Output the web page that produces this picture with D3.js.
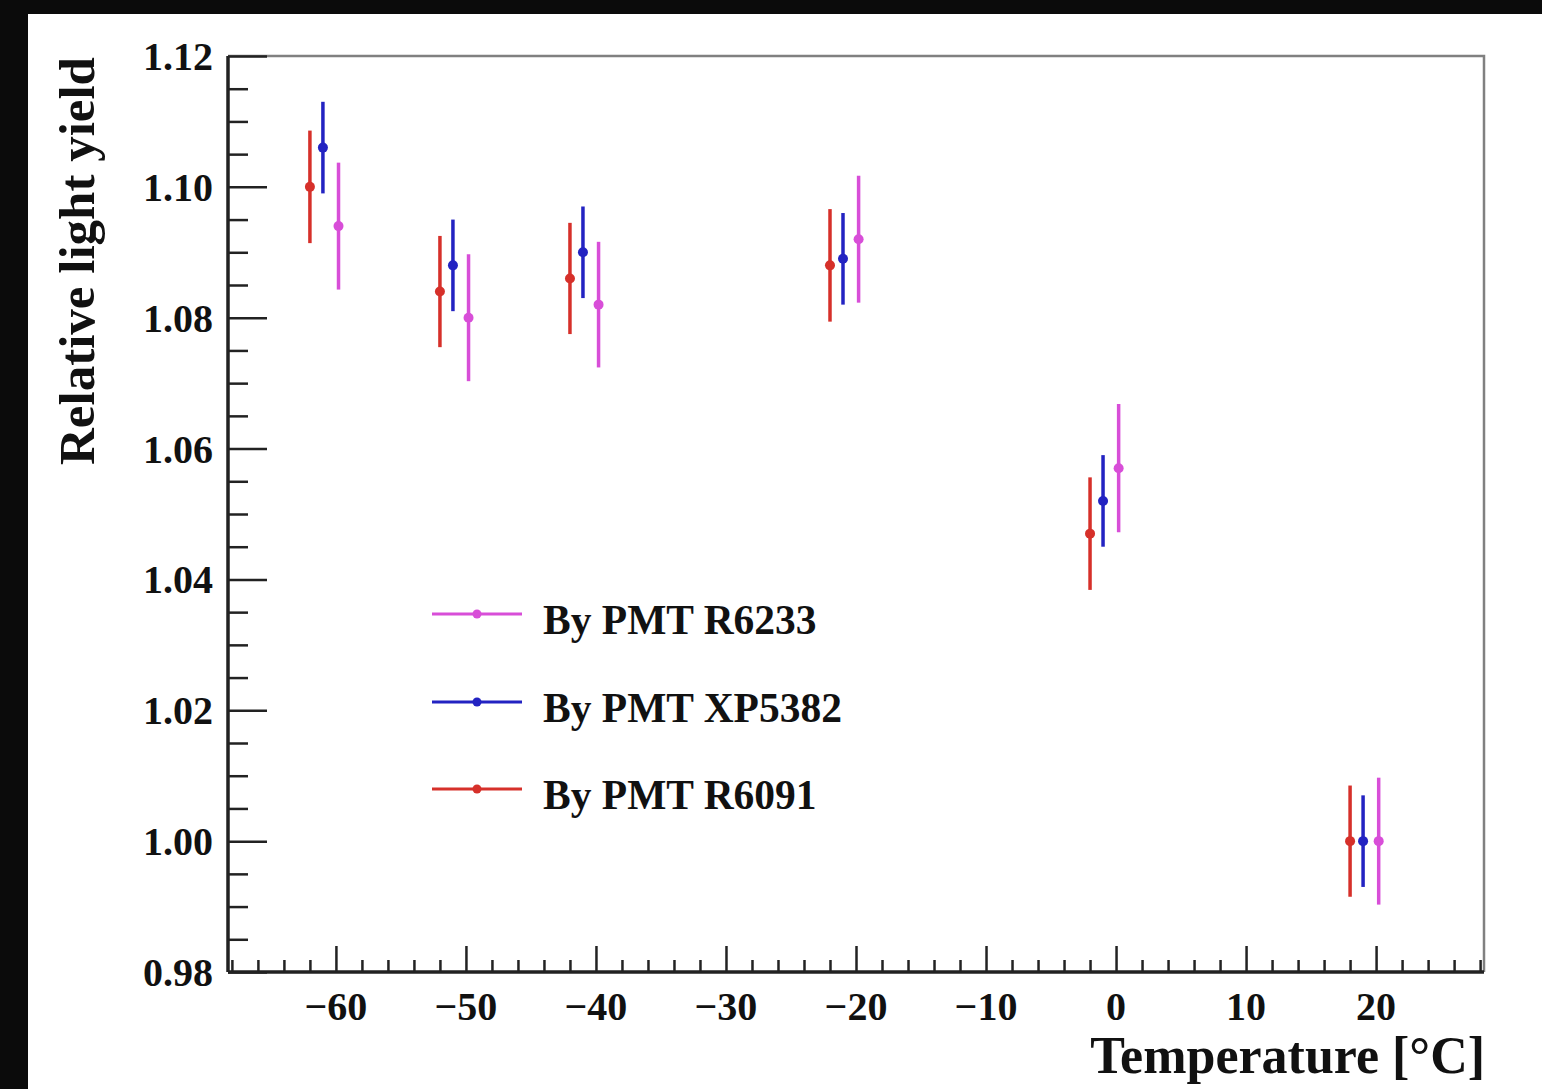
<!DOCTYPE html>
<html>
<head>
<meta charset="utf-8">
<script src="https://cdn.jsdelivr.net/npm/d3@7"></script>
<style>
  html, body { margin: 0; padding: 0; background: #0b0b0b; }
  svg { display: block; }
  text { font-family: "Liberation Serif", "Times New Roman", serif; font-weight: bold; fill: #111; }
</style>
</head>
<body>
<svg id="chart" width="1542" height="1089"></svg>
<script>
// temperatures each PMT was measured at (shifted a bit per PMT so the bars don't overlap)
var tempsR6233 = [-59.8, -49.8, -39.8, -19.8, 0.2, 20.2];
var tempsXP5382 = [-61, -51, -41, -21, -1, 19];
var tempsR6091 = [-62, -52, -42, -22, -2, 18];

var yieldR6233 = [1.094, 1.080, 1.082, 1.092, 1.057, 1.000];
var yieldXP5382 = [1.106, 1.088, 1.090, 1.089, 1.052, 1.000];
var yieldR6091 = [1.100, 1.084, 1.086, 1.088, 1.047, 1.000];

var errR6233 = [0.0097, 0.0097, 0.0096, 0.0097, 0.0098, 0.0097];
var errXP5382 = [0.007, 0.007, 0.007, 0.007, 0.007, 0.007];
var errR6091 = [0.0086, 0.0085, 0.0085, 0.0086, 0.0086, 0.0085];

var seriesNames = ["By PMT R6233", "By PMT XP5382", "By PMT R6091"];
var seriesColors = ["#d84ed8", "#2323c2", "#d6302a"];

var xMajorTicks = [-60, -50, -40, -30, -20, -10, 0, 10, 20];
var yMajorTicks = [0.98, 1.00, 1.02, 1.04, 1.06, 1.08, 1.10, 1.12];

var svg = d3.select("#chart");

// white pad on black background
svg.append("rect").attr("x", 28).attr("y", 14).attr("width", 1542 - 28).attr("height", 1089 - 14).attr("fill", "#fff");

var padL = 228, padR = 1484, padT = 56, padB = 972;

var x = d3.scaleLinear().domain([-68.3, 28.3]).range([padL, padR]);
var y = d3.scaleLinear().domain([0.98, 1.12]).range([padB, padT]);

// frame (top / right in grey)
svg.append("path")
  .attr("d", "M" + padL + "," + padT + "H" + padR + "V" + padB)
  .attr("fill", "none").attr("stroke", "#808080").attr("stroke-width", 2.5);

// minor ticks
var xMinor = d3.range(-68, 29, 2).filter(function(v) { return v % 10 !== 0; });
var yMinor = d3.range(0, 29).map(function(i) { return +(0.98 + i * 0.005).toFixed(3); })
  .filter(function(v) { return Math.round(v * 1000) % 20 !== 0; });

var gx = svg.append("g").attr("transform", "translate(0," + padB + ")");
gx.call(d3.axisBottom(x).tickValues(xMinor).tickSize(-12).tickFormat(""));
gx.append("g").call(d3.axisBottom(x).tickValues(xMajorTicks).tickSize(-26).tickFormat(""));
gx.selectAll("path.domain").attr("d", "M" + padL + ",0H" + padR).attr("stroke", "#222").attr("stroke-width", 3);
gx.selectAll(".tick line").attr("stroke", "#222").attr("stroke-width", 2.5);

var gy = svg.append("g").attr("transform", "translate(" + padL + ",0)");
gy.call(d3.axisLeft(y).tickValues(yMinor).tickSize(-20).tickFormat(""));
gy.append("g").call(d3.axisLeft(y).tickValues(yMajorTicks).tickSize(-39).tickFormat(""));
gy.selectAll("path.domain").attr("d", "M0," + padT + "V" + padB).attr("stroke", "#222").attr("stroke-width", 3);
gy.selectAll(".tick line").attr("stroke", "#222").attr("stroke-width", 2.5);

// tick labels
svg.selectAll(".xlab").data(xMajorTicks).enter().append("text")
  .attr("class", "xlab")
  .attr("x", function(d) { return x(d); })
  .attr("y", 1020)
  .attr("text-anchor", "middle")
  .style("font-size", "40px")
  .text(function(d) { return d < 0 ? "\u2212" + Math.abs(d) : d; });

svg.selectAll(".ylab").data(yMajorTicks).enter().append("text")
  .attr("class", "ylab")
  .attr("x", 213)
  .attr("y", function(d) { return y(d) + 14; })
  .attr("text-anchor", "end")
  .style("font-size", "40px")
  .text(function(d) { return d.toFixed(2); });

// axis titles
svg.append("text")
  .attr("x", 1485).attr("y", 1073)
  .attr("text-anchor", "end")
  .style("font-size", "52px")
  .text("Temperature [\u00b0C]");

svg.append("text")
  .attr("transform", "translate(94,261) rotate(-90)")
  .attr("text-anchor", "middle")
  .style("font-size", "51px")
  .text("Relative light yield");

// error bars + markers
var allTemps = [tempsR6233, tempsXP5382, tempsR6091];
var allYields = [yieldR6233, yieldXP5382, yieldR6091];
var allErrs = [errR6233, errXP5382, errR6091];

for (var s = 0; s < 3; s++) {
  var pts = allTemps[s].map(function(t, i) {
    return { t: t, v: allYields[s][i], e: allErrs[s][i] };
  });
  var g = svg.append("g").attr("class", "series" + s);
  g.selectAll("line").data(pts).enter().append("line")
    .attr("x1", function(d) { return x(d.t); })
    .attr("x2", function(d) { return x(d.t); })
    .attr("y1", function(d) { return y(d.v + d.e); })
    .attr("y2", function(d) { return y(d.v - d.e); })
    .attr("stroke", seriesColors[s]).attr("stroke-width", 3.5);
  g.selectAll("circle").data(pts).enter().append("circle")
    .attr("cx", function(d) { return x(d.t); })
    .attr("cy", function(d) { return y(d.v); })
    .attr("r", 5)
    .attr("fill", seriesColors[s]);
}

// legend
var legendY = [614, 702, 789];
var leg = svg.selectAll(".leg").data(seriesNames).enter().append("g")
  .attr("class", "leg")
  .attr("transform", function(d, i) { return "translate(0," + legendY[i] + ")"; });
leg.append("line").attr("x1", 432).attr("x2", 522).attr("y1", 0).attr("y2", 0)
  .attr("stroke", function(d, i) { return seriesColors[i]; }).attr("stroke-width", 3);
leg.append("circle").attr("cx", 477).attr("cy", 0).attr("r", 4.5)
  .attr("fill", function(d, i) { return seriesColors[i]; });
leg.append("text").attr("x", 543).attr("y", 20)
  .style("font-size", "41.5px")
  .text(function(d) { return d; });
</script>
</body>
</html>
